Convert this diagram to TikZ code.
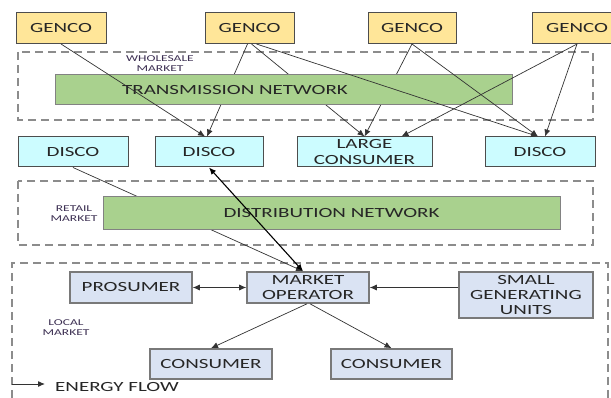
\documentclass[tikz,border=0pt]{standalone}
\usepackage{fontspec}
\setmainfont{Carlito}
\newfontfamily\widefont[FakeStretch=1.5]{Carlito}
\usetikzlibrary{arrows.meta,calc}

\definecolor{gencofill}{HTML}{FFE699}
\definecolor{discofill}{HTML}{CCFCFF}
\definecolor{netfill}{HTML}{A9D18E}
\definecolor{localfill}{HTML}{DAE3F3}
\definecolor{boxline}{HTML}{4D4D4D}
\definecolor{txt}{HTML}{262626}
\definecolor{smalltxt}{HTML}{3C2F52}
\definecolor{dashline}{HTML}{8C8C8C}
\definecolor{wire}{HTML}{333333}

\tikzset{
  box/.style={draw=boxline, line width=1pt, inner sep=0pt, align=center,
    text=txt, font=\widefont\fontsize{14}{15}\selectfont},
  genco/.style={box, fill=gencofill, minimum height=31pt},
  disco/.style={box, fill=discofill, minimum height=30pt},
  network/.style={box, draw=boxline!70, fill=netfill},
  localbox/.style={box, draw=boxline!75, line width=1.6pt, fill=localfill, minimum height=31pt},
  market/.style={dashline, dash pattern=on 8pt off 5pt, line width=1.1pt},
  marketlabel/.style={align=center, text=smalltxt, inner sep=0pt,
    font=\widefont\fontsize{9}{10}\selectfont},
  link/.style={wire, line width=0.7pt},
  arr/.style={link, -{Latex[length=7pt,width=6pt]}},
  biarr/.style={link, {Latex[length=7pt,width=6pt]}-{Latex[length=7pt,width=6pt]}},
}

\begin{document}
\begin{tikzpicture}[x=1pt,y=-1pt]
\useasboundingbox (0,0) rectangle (611,398);

% market areas
\draw[market] (18,52) rectangle (593,120);
\draw[market] (18,181) rectangle (593,245);
\draw[market] (12,398) -- (12,263) -- (608,263) -- (608,398);

\node[marketlabel] (wlab) at (160,64) {WHOLESALE\\MARKET};
\node[marketlabel] (rlab) at (74,214) {RETAIL\\MARKET};
\node[marketlabel] (llab) at (66,328) {LOCAL\\MARKET};

% generators
\node[genco, minimum width=90pt] (g1) at (61,28) {GENCO};
\node[genco, minimum width=89pt] (g2) at (249.5,28) {GENCO};
\node[genco, minimum width=88pt] (g3) at (412,28) {GENCO};
\node[genco, minimum width=90pt] (g4) at (577,28) {GENCO};

% distribution companies and large consumer
\node[disco, minimum width=110pt] (d1) at (73,152) {DISCO};
\node[disco, minimum width=108pt] (d2) at (209,152) {DISCO};
\node[disco, minimum width=135pt, font=\widefont\fontsize{14}{16}\selectfont] (lc) at (364.5,152) {LARGE\\CONSUMER};
\node[disco, minimum width=110pt] (d4) at (540,152) {DISCO};

% flows passing behind the transmission network
\draw[arr] ([xshift=-2pt]g2.south) -- ([xshift=-2pt]d2.north);
\draw[arr] ([xshift=2pt]g2.south) -- (lc.north);
\draw[arr] (g3.south) -- (lc.north);

% transmission network, its label set left of centre
\node[network, minimum width=457pt, minimum height=30pt] (tn) at (283.5,90) {TRANSMISSION NETWORK\hspace{97pt}};

% flows drawn across the transmission network
\draw[arr] (g1.south) -- ([xshift=-4pt]d2.north);
\draw[arr] ([xshift=7pt]g2.south) -- ([xshift=-2pt]d4.north);
\draw[arr] (g3.south) -- ([xshift=-2pt]d4.north);
\draw[arr] (g4.south) -- ([xshift=37pt]lc.north);
\draw[arr] (g4.south) -- ([xshift=5pt]d4.north);

% local market participants
\node[localbox, minimum width=122pt] (pro) at (131,287.5) {PROSUMER};
\node[localbox, minimum width=122pt, font=\widefont\fontsize{14}{15}\selectfont] (mo) at (308,287.5) {MARKET\\OPERATOR};
\node[localbox, minimum width=134pt, minimum height=46pt] (sgu) at (526,295) {SMALL\\GENERATING\\UNITS};
\node[localbox, minimum width=122pt, minimum height=30pt] (c1) at (211,364) {CONSUMER};
\node[localbox, minimum width=121pt, minimum height=30pt] (c2) at (391.5,364) {CONSUMER};

% flow passing behind the distribution network
\draw[arr] (d1.south) -- ([xshift=-5pt]mo.north);

\node[network, minimum width=457pt, minimum height=33pt] (dn) at (331.5,213.5) {DISTRIBUTION NETWORK};

\draw[biarr, line width=1.1pt, black] (d2.south) -- ([xshift=-5pt]mo.north);
\draw[biarr] (pro.east) -- (mo.west);
\draw[arr] (sgu.west |- mo.east) -- (mo.east);
\draw[arr] ([xshift=-1pt]mo.south) -- (c1.north);
\draw[arr] ([xshift=2pt]mo.south) -- (c2.north);

% legend
\coordinate (lg) at (12,384);
\coordinate (lgend) at (45,384);
\draw[link, line width=1pt, -{Latex[length=7pt,width=6pt]}] (lg) -- (lgend);
\node[anchor=west, inner sep=0pt, text=txt, font=\widefont\fontsize{14}{15}\selectfont] (eflow) at (55,387) {ENERGY FLOW};
\end{tikzpicture}
\end{document}
